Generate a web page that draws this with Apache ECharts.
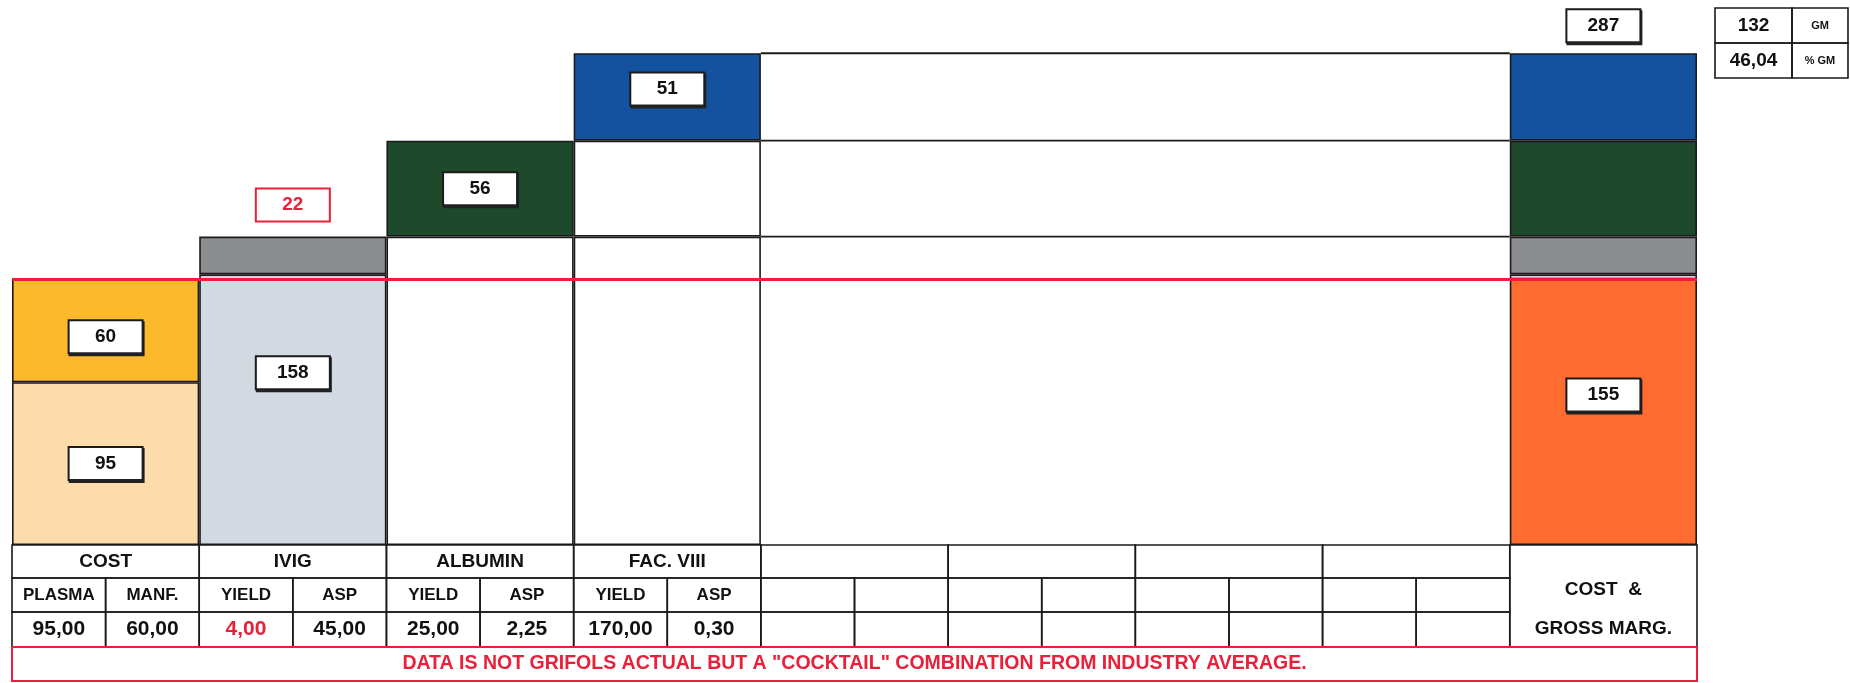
<!DOCTYPE html>
<html>
<head>
<meta charset="utf-8">
<script src="https://cdn.jsdelivr.net/npm/echarts@6/dist/echarts.min.js"></script>
<style>
  html, body { margin: 0; padding: 0; background: #fff; }
  #main { width: 1850px; height: 683px; }
</style>
</head>
<body>
<div id="main"></div>
<script>
// columns of the waterfall (4 empty product slots before the total)
const columns = ['COST', 'IVIG', 'ALBUMIN', 'FAC. VIII', '', '', '', '', 'COST & GROSS MARG.'];

// values
const costValues = [95, 60];        // plasma, manf.
const ivigValues = [158, 22];       // base, yield gap (red)
const albuminValue = 56;
const facViiiValue = 51;
const gmPctLabel = '46,04';

// table rows under the bars
const headerRow = ['COST', 'IVIG', 'ALBUMIN', 'FAC. VIII', '', '', '', ''];
const subHeaderRow = ['PLASMA', 'MANF.', 'YIELD', 'ASP', 'YIELD', 'ASP', 'YIELD', 'ASP',
  '', '', '', '', '', '', '', ''];
const inputRow = ['95,00', '60,00', '4,00', '45,00', '25,00', '2,25', '170,00', '0,30',
  '', '', '', '', '', '', '', ''];
const disclaimer = 'DATA IS NOT GRIFOLS ACTUAL BUT A "COCKTAIL" COMBINATION FROM INDUSTRY AVERAGE.';

const totalCost = costValues[0] + costValues[1];
const ivigTotal = ivigValues[0] + ivigValues[1];
const albuminTop = ivigTotal + albuminValue;
const totalRevenue = ivigTotal + albuminValue + facViiiValue;
const grossMargin = totalRevenue - totalCost;

const FONT = '"Liberation Sans", Arial, sans-serif';
const INK = '#1a1a1a';
const RED = '#e8203a';

const boxLabel = {
  show: true,
  position: 'inside',
  color: '#111',
  fontFamily: FONT,
  fontWeight: 'bold',
  fontSize: 19,
  backgroundColor: '#fff',
  borderColor: INK,
  borderWidth: 2,
  shadowColor: '#222',
  shadowBlur: 0,
  shadowOffsetX: 1,
  shadowOffsetY: 2,
  width: 72,
  height: 31,
  lineHeight: 31,
  align: 'center',
  verticalAlign: 'middle'
};

// helper: one value at given column index, '-' elsewhere
function at(pairs) {
  const arr = columns.map(() => '-');
  pairs.forEach(p => { arr[p[0]] = p[1]; });
  return arr;
}

function barSeries(name, data, color) {
  return {
    name: name,
    type: 'bar',
    stack: 'w',
    barWidth: '100%',
    data: data,
    itemStyle: { color: color, borderColor: INK, borderWidth: 1.6 },
    label: { show: false },
    z: 2
  };
}

function lineSeries(y, x0, x1, color, width) {
  return {
    type: 'line',
    xAxisIndex: 1,
    yAxisIndex: 0,
    symbol: 'none',
    data: [[x0, y], [x1, y]],
    lineStyle: { color: color, width: width },
    z: 5,
    silent: true
  };
}

const last = columns.length - 1;
const topBox = { position: 'top', distance: 16, verticalAlign: 'bottom' };

const series = [
  barSeries('Plasma', at([[0, { value: costValues[0], label: Object.assign({}, boxLabel) }]]), '#fddcab'),
  barSeries('Manf.', at([[0, { value: costValues[1], label: Object.assign({}, boxLabel, { offset: [0, 6] }) }]]), '#fdb92c'),
  barSeries('Cost', at([[last, { value: totalCost, label: Object.assign({}, boxLabel, { position: ['50%', 100], verticalAlign: 'top' }) }]]), '#ff6c2f'),
  barSeries('IVIG base', at([
    [1, { value: ivigValues[0], label: Object.assign({}, boxLabel, { position: ['50%', 83], verticalAlign: 'top' }) }],
    [last, ivigValues[0] - totalCost]
  ]), '#d3d9e0'),
  barSeries('IVIG yield', at([
    [1, { value: ivigValues[1], label: Object.assign({}, boxLabel, topBox, { color: RED, borderColor: RED, shadowOffsetX: 0, shadowOffsetY: 0 }) }],
    [last, ivigValues[1]]
  ]), '#8b8d91'),
  barSeries('Carry', at([[2, ivigTotal], [3, ivigTotal]]), '#fff'),
  barSeries('Albumin', at([
    [2, { value: albuminValue, label: Object.assign({}, boxLabel) }],
    [last, albuminValue]
  ]), '#1e4a2b'),
  barSeries('Carry 2', at([[3, albuminValue]]), '#fff'),
  barSeries('FAC. VIII', at([
    [3, { value: facViiiValue, label: Object.assign({}, boxLabel, { offset: [0, -8] }) }],
    [last, { value: facViiiValue, label: Object.assign({}, boxLabel, topBox, { distance: 12, formatter: String(totalRevenue) }) }]
  ]), '#1452a0'),
  // level lines across the empty product slots
  lineSeries(totalRevenue, 4, last, INK, 1.8),
  lineSeries(albuminTop, 4, last, INK, 1.8),
  lineSeries(ivigTotal, 4, last, INK, 1.8),
  // cost level
  Object.assign(lineSeries(totalCost, 0, columns.length, RED, 3), { z: 8 })
];

const chart = echarts.init(document.getElementById('main'));
chart.setOption({
  animation: false,
  backgroundColor: '#fff',
  grid: { left: 12, right: 153, top: 31, bottom: 138 },
  xAxis: [
    { type: 'category', data: columns, show: false },
    { type: 'value', min: 0, max: columns.length, show: false }
  ],
  yAxis: { type: 'value', min: 0, max: 300, show: false, splitLine: { show: false } },
  series: series
});

// ---- table under the chart + GM box (positions from the axes)
const edges = [];
for (let i = 0; i <= columns.length; i++) edges.push(chart.convertToPixel({ xAxisIndex: 1 }, i));
const baseY = chart.convertToPixel({ yAxisIndex: 0 }, 0);
const rowH = [33, 34, 35, 34];

const g = [];
function cell(x, y, w, h, text, font, color, stroke, lw) {
  g.push({
    type: 'rect', silent: true, z: 10,
    shape: { x: x, y: y, width: w, height: h },
    style: { fill: 'none', stroke: stroke || INK, lineWidth: lw || 1.6 }
  });
  if (text) {
    g.push({
      type: 'text', silent: true, z: 11,
      style: {
        text: text, x: x + w / 2, y: y + h / 2,
        font: font, fill: color || '#111',
        textAlign: 'center', align: 'center',
        textVerticalAlign: 'middle', verticalAlign: 'middle'
      }
    });
  }
}

const y1 = baseY, y2 = y1 + rowH[0], y3 = y2 + rowH[1], y4 = y3 + rowH[2];
for (let i = 0; i < 8; i++) {
  const x = edges[i], w = edges[i + 1] - edges[i];
  cell(x, y1, w, rowH[0], headerRow[i], 'bold 19px ' + FONT);
  for (let k = 0; k < 2; k++) {
    const j = i * 2 + k;
    cell(x + k * w / 2, y2, w / 2, rowH[1], subHeaderRow[j], 'bold 17px ' + FONT);
    cell(x + k * w / 2, y3, w / 2, rowH[2], inputRow[j], 'bold 21px ' + FONT, j === 2 ? RED : '#111');
  }
}
// merged total cell
const rx = edges[last], rw = edges[last + 1] - edges[last];
cell(rx, y1, rw, rowH[0] + rowH[1] + rowH[2], '', '');
g.push({
  type: 'text', silent: true, z: 11,
  style: { text: 'COST  &', x: rx + rw / 2, y: y1 + 45, font: 'bold 19px ' + FONT, fill: '#111',
    textAlign: 'center', align: 'center', textVerticalAlign: 'middle', verticalAlign: 'middle' }
});
g.push({
  type: 'text', silent: true, z: 11,
  style: { text: 'GROSS MARG.', x: rx + rw / 2, y: y1 + 84, font: 'bold 19px ' + FONT, fill: '#111',
    textAlign: 'center', align: 'center', textVerticalAlign: 'middle', verticalAlign: 'middle' }
});
// disclaimer row
cell(edges[0], y4, edges[columns.length] - edges[0], rowH[3], disclaimer, 'bold 19.5px ' + FONT, RED, RED, 2);

// GM box top right
const gx = edges[columns.length] + 18;
cell(gx, 8, 77, 35, String(grossMargin), 'bold 19px ' + FONT);
cell(gx + 77, 8, 56, 35, 'GM', 'bold 11px ' + FONT);
cell(gx, 43, 77, 35, gmPctLabel, 'bold 19px ' + FONT);
cell(gx + 77, 43, 56, 35, '% GM', 'bold 11px ' + FONT);

chart.setOption({ graphic: g });
</script>
</body>
</html>
